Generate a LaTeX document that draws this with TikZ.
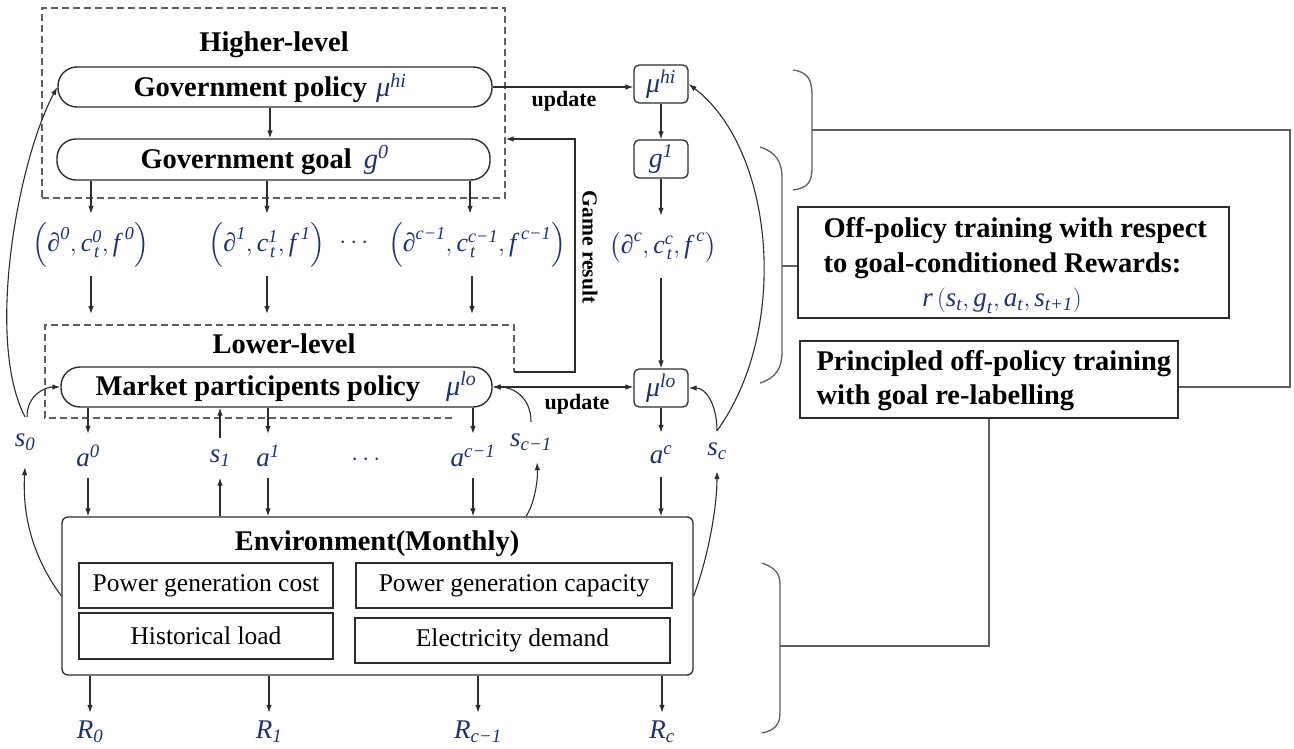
\documentclass[tikz,border=0pt]{standalone}
\usepackage{amsmath}
\usepackage{fontspec}
\setmainfont{Liberation Serif}
\usetikzlibrary{arrows.meta}
\definecolor{mathc}{RGB}{28,50,115}
\definecolor{lc}{RGB}{45,45,45}
\definecolor{gc}{RGB}{95,95,95}
\newcommand\mv[1]{\text{\normalfont\itshape #1\/}}
\newcommand\bsz{\fontsize{28.5}{34}\selectfont\bfseries}
\newcommand\tup[3]{$\left(\mv{∂}^{#1},\mv{c}^{#2}_{\mkern2mu\mv{t}},\mv{f}^{\mkern2mu#3}\right)$}
\begin{document}
\begin{tikzpicture}[x=1pt,y=-1pt,
  arr/.style={-{Latex[length=8pt,width=5.5pt]}, draw=lc, line width=1.1pt},
  arrb/.style={{Latex[length=8pt,width=5.5pt]}-{Latex[length=8pt,width=5.5pt]}, draw=lc, line width=1.1pt},
  pill/.style={draw=lc, line width=1.4pt, rounded corners=19pt, inner sep=0},
  rbox/.style={draw=lc, line width=1.3pt, rounded corners=5pt, minimum width=54pt, minimum height=38pt, inner sep=0, text=mathc, font=\fontsize{28}{30}\selectfont},
  sbox/.style={draw=lc, line width=1.3pt, inner sep=0, font=\fontsize{25.5}{28}\selectfont},
  dline/.style={draw=gc, dash pattern=on 7pt off 4pt, line width=1.2pt},
  lbl/.style={inner sep=0, text=mathc, font=\fontsize{27}{29}\selectfont},
  tupl/.style={inner sep=0, text=mathc, font=\fontsize{26}{30}\selectfont, minimum height=62pt},
  bracel/.style={draw=gc, line width=1.3pt},
  bt/.style={font=\bsz}
]
\useasboundingbox (0,0) rectangle (1294,749);

% ---------- higher level ----------
\node[draw=gc, dash pattern=on 7pt off 4pt, line width=1.2pt, inner sep=0,
      minimum width=463pt, minimum height=190pt] (hibox) at (273.5,103) {};
\node[bt, anchor=base] (hlt) at (274,52) {Higher-level};
\node[pill, minimum width=434pt, minimum height=40pt] (gp) at (275,87) {};
\node[bt, anchor=base west] (gpt) at (130,97) {Government policy\hspace{9pt}{\color{mathc}$\mv{μ}^{\mv{hi}}$}};
\node[pill, minimum width=433pt, minimum height=41pt] (gg) at (273.5,159.5) {};
\node[bt, anchor=base west] (ggt) at (137,168) {Government goal\hspace{12pt}{\color{mathc}$\mv{g}^{\mv{0}}$}};
\draw[arr] (gp.south -| 270,0) -- (gg.north -| 270,0);

% ---------- tuples ----------
\node[tupl] (t0) at (91,245) {\tup{\mv{0}}{\mv{0}}{\mv{0}}};
\node[tupl] (t1) at (267,245) {\tup{\mv{1}}{\mv{1}}{\mv{1}}};
\node[lbl, font=\fontsize{26}{28}\selectfont] (tdots) at (356,243) {$\cdots$};
\node[tupl] (tc1) at (477,245) {\tup{\mv{c−1}}{\mv{c−1}}{\mv{c−1}}};
\node[tupl] (tc) at (663,247) {\tup{\mv{c}}{\mv{c}}{\mv{c}}};
\coordinate (lotop) at (279,325);
\foreach \t in {t0,t1}{
  \draw[arr] (gg.south -| \t) -- (\t.north);
  \draw[arr, shorten >=11pt] (\t.south) -- (\t |- lotop);
}
\draw[arr] (gg.south -| 470,0) -- (tc1.north -| 470,0);
\draw[arr, shorten >=11pt] (tc1.south -| 472,0) -- (lotop -| 472,0);

% ---------- lower level ----------
\draw[dline] (452,418) -- (45,418) -- (45,325) -- (514,325) -- (514,372);
\node[bt, anchor=base] (llt) at (284,353) {Lower-level};
\node[pill, minimum width=431pt, minimum height=40pt] (mkt) at (276.5,387) {};
\node[bt, anchor=base west] (mktt) at (92,395) {Market participents policy\hspace{26pt}{\color{mathc}$\mv{μ}^{\mv{lo}}$}};

% ---------- game result ----------
\coordinate (grs) at (514,372);
\coordinate (grc) at (575,139);
\draw[arr] (grs) -| (grc) -- (grc -| hibox.east);
\node[rotate=-90, font=\bfseries\fontsize{21.5}{24}\selectfont] (grt) at (590,247) {Game result};

% ---------- right column ----------
\node[rbox] (muhi) at (661,84) {$\mv{μ}^{\mv{hi}}$};
\node[rbox] (g1) at (661,159) {$\mv{g}^{\mv{1}}$};
\node[rbox] (mulo) at (661,388) {$\mv{μ}^{\mv{lo}}$};
\draw[arr] (muhi) -- (g1);
\draw[arr] (g1) -- (g1 |- tc.north);
\draw[arr] (g1 |- tc.south) -- (mulo);

\draw[arr] (gp.east) -- (gp.east -| muhi.west);
\node[font=\bfseries\fontsize{22}{24}\selectfont] (up1) at (564,101) {update};
\draw[arrb] (mkt.east) -- (mkt.east -| mulo.west);
\node[font=\bfseries\fontsize{22}{24}\selectfont] (up2) at (577,404) {update};

% ---------- actions and states ----------
\node[lbl, minimum height=50pt] (s0) at (25,442) {$\mv{s}_{\mv{0}}$};
\node[lbl, minimum height=44pt] (a0) at (88,456) {$\mv{a}^{\mv{0}}$};
\node[lbl, minimum height=39pt] (s1) at (220,458) {$\mv{s}_{\mv{1}}$};
\node[lbl, minimum height=44pt] (a1) at (268,456) {$\mv{a}^{\mv{1}}$};
\node[lbl] (adots) at (368,460) {$\cdots$};
\node[lbl, minimum height=44pt] (ac1) at (473,456) {$\mv{a}^{\mv{c−1}}$};
\node[lbl, minimum height=40pt] (sc1) at (531,442) {$\mv{s}_{\mv{c−1}}$};
\node[lbl, minimum height=44pt] (ac) at (661,455) {$\mv{a}^{\mv{c}}$};
\node[lbl, minimum height=40pt] (sc) at (717,451) {$\mv{s}_{\mv{c}}$};

% ---------- environment ----------
\node[draw=lc, line width=1.3pt, rounded corners=6pt, minimum width=631pt, minimum height=158pt, inner sep=0] (env) at (377.5,596) {};
\node[bt, anchor=base] (envt) at (377,550) {Environment(Monthly)};
\node[sbox, minimum width=254pt, minimum height=45pt] (pgc) at (206,585.5) {Power generation cost};
\node[sbox, minimum width=254pt, minimum height=46pt] (hl) at (206,636) {Historical load};
\node[sbox, minimum width=316pt, minimum height=45pt] (pgcap) at (514,585.5) {Power generation capacity};
\node[sbox, minimum width=315pt, minimum height=45pt] (ed) at (512.5,640.5) {Electricity demand};

\foreach \a in {a0,a1,ac1}{
  \draw[arr] (mkt.south -| \a) -- (\a.north);
  \draw[arr] (\a.south) -- (\a |- env.north);
}
\draw[arr] (mulo) -- (ac.north);
\draw[arr] (ac.south) -- (ac |- env.north);
\draw[arr] (s1 |- env.north) -- (s1.south);
\draw[arr] (s1.north) -- (s1 |- mkt.south);

% curves
\draw[arr] (env.west) .. controls (35,560) and (22,520) .. (s0.south);
\draw[arr] (s0.north) .. controls (-15,340) and (18,160) .. (gp.west);
\draw[arr] ([xshift=2pt]s0.north) .. controls +(0,-22) and +(-15,0) .. (mkt.west);
\draw[arr] ([xshift=-5pt]sc1.south |- env.north) .. controls +(8,-12) and +(1,20) .. ([xshift=6pt]sc1.south);
\draw[arr] (sc1.north) .. controls +(0,-25) and +(20,0) .. (mkt.east);
\draw[arr] (env.east) .. controls +(15,-40) and +(0,35) .. (sc.south);
\draw[arr] (sc.north) .. controls +(0,-25) and +(18,0) .. (mulo.east);
\draw[arr] (sc.north) .. controls (790,330) and (775,150) .. (muhi.east);

% rewards
\node[lbl, minimum height=38pt] (r0) at (90,732) {$\mv{R}_{\mv{0}}$};
\node[lbl, minimum height=38pt] (r1) at (269,732) {$\mv{R}_{\mv{1}}$};
\node[lbl, minimum height=38pt] (rc1) at (478,732) {$\mv{R}_{\mv{c−1}}$};
\node[lbl, minimum height=38pt] (rc) at (662,732) {$\mv{R}_{\mv{c}}$};
\foreach \r in {r0,r1,rc1,rc}{
  \draw[arr] (env.south -| \r) -- (\r.north);
}

% ---------- right panel ----------
\node[draw=lc, line width=1.3pt, minimum width=431pt, minimum height=111pt, inner sep=0] (off) at (1013.5,262.5) {};
\node[bt, anchor=base west] (off1) at (820,237) {Off-policy training with respect};
\node[bt, anchor=base west] (off2) at (820,272) {to goal-conditioned Rewards:};
\node[lbl, font=\fontsize{27}{30}\selectfont] (offr) at (1002,301) {$\mv{r}\left(\mv{s}_{\mv{t}},\mv{g}_{\mv{t}},\mv{a}_{\mv{t}},\mv{s}_{\mv{t+1}}\right)$};
\node[draw=lc, line width=1.3pt, minimum width=378pt, minimum height=77pt, inner sep=0] (prin) at (989,379.5) {};
\node[bt, anchor=base west] (prin1) at (813,370) {Principled off-policy training};
\node[bt, anchor=base west] (prin2) at (813,404) {with goal re-labelling};

% braces
\draw[bracel] (793,70) .. controls (808,72) and (812,80) .. (812,95) -- (812,167) .. controls (812,182) and (808,188) .. (793,190);
\coordinate (bA) at (812,130);
\coordinate (bAr) at (1290,130);
\draw[bracel] (bA) -- (bAr) |- ([yshift=-7.5pt]prin.east);
\draw[bracel] (760,147) .. controls (776,152) and (782,162) .. (782,178) -- (782,352) .. controls (782,368) and (776,378) .. (760,383);
\coordinate (bB) at (782,266);
\draw[bracel] (bB) -- (bB -| off.west);
\draw[bracel] (762,563) .. controls (776,568) and (780,574) .. (780,585) -- (780,712) .. controls (780,724) and (776,730) .. (762,733);
\coordinate (bC) at (780,646);
\draw[bracel] (bC) -| (prin.south);
\end{tikzpicture}
\end{document}
